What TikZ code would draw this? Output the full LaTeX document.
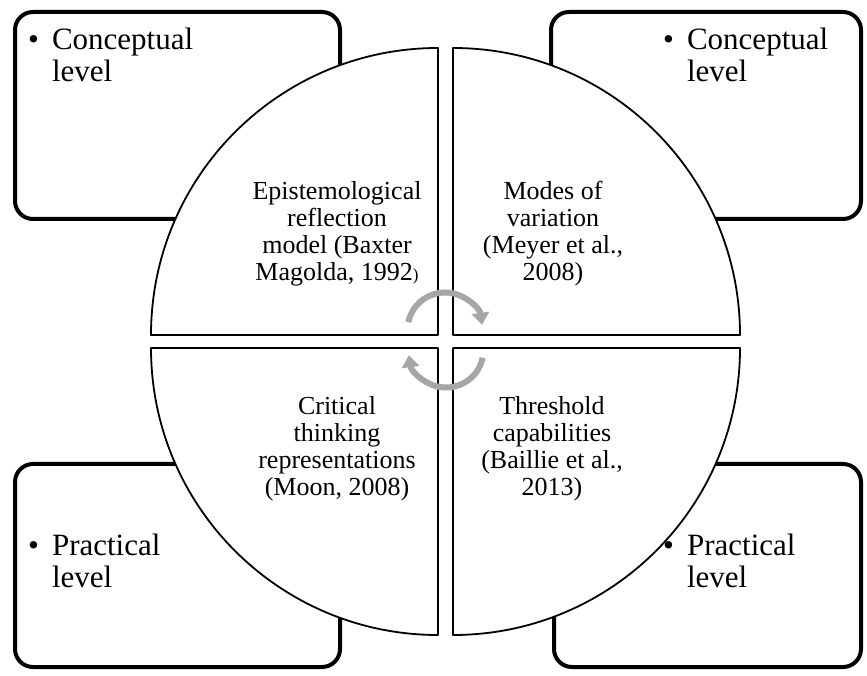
\documentclass[tikz,border=0pt]{standalone}
\usepackage{fontspec}
\setmainfont{Liberation Serif}
\usetikzlibrary{arrows.meta}

\definecolor{arrowgray}{HTML}{A6A6A6}

\tikzset{
  levelbox/.style={line width=4pt,rounded corners=18pt},
  quarter/.style={line width=1.8pt,fill=white},
  cycarrow/.style={line width=6pt,arrowgray,-{Triangle[length=12pt,width=17pt]}},
  leveltext/.style={anchor=base west,inner sep=0pt,font=\fontsize{31}{32}\selectfont},
  theorytext/.style={anchor=base,inner sep=0pt,font=\fontsize{26}{27}\selectfont}
}

\begin{document}
\begin{tikzpicture}[line join=round,x=1pt,y=1pt]
\useasboundingbox (0,0) rectangle (867,675);
% corner boxes
\draw [levelbox] (15,456) rectangle (340,663);
\draw [levelbox] (551,456) rectangle (861,663);
\draw [levelbox] (15,8) rectangle (340,211);
\draw [levelbox] (554,8) rectangle (861,211);
% the four quarters
\draw [quarter] (438,340) -- (438,627) arc (90:180:287) -- cycle;
\draw [quarter] (453,340) -- (740,340) arc (0:90:287) -- cycle;
\draw [quarter] (438,327) -- (151,327) arc (180:270:287) -- cycle;
\draw [quarter] (453,327) -- (453,40) arc (270:360:287) -- cycle;
% box texts
\node [leveltext] (conceptLeft) at (28,625) {\begin{tabular}[t]{@{}l@{\hspace{13pt}}l@{}}\textbullet & Conceptual\\ & level\end{tabular}};
\node [leveltext] (conceptRight) at (663,625) {\begin{tabular}[t]{@{}l@{\hspace{13pt}}l@{}}\textbullet & Conceptual\\ & level\end{tabular}};
\node [leveltext] (practLeft) at (28,120) {\begin{tabular}[t]{@{}l@{\hspace{13pt}}l@{}}\textbullet & Practical\\ & level\end{tabular}};
\node [leveltext] (practRight) at (663,120) {\begin{tabular}[t]{@{}l@{\hspace{13pt}}l@{}}\textbullet & Practical\\ & level\end{tabular}};
% quarter texts
\node [theorytext] (epistModel) at (337,475) {\begin{tabular}[t]{@{}c@{}}Epistemological\\ reflection\\ model (Baxter\\ Magolda, 1992{\fontsize{17}{17}\selectfont )}\end{tabular}};
\node [theorytext] (variationModes) at (553,475) {\begin{tabular}[t]{@{}c@{}}Modes of\\ variation\\ (Meyer et al.,\\ 2008)\end{tabular}};
\node [theorytext] (critThinking) at (337,260) {\begin{tabular}[t]{@{}c@{}}Critical\\ thinking\\ representations\\ (Moon, 2008)\end{tabular}};
\node [theorytext] (thresholdCap) at (552,260) {\begin{tabular}[t]{@{}c@{}}Threshold\\ capabilities\\ (Baillie et al.,\\ 2013)\end{tabular}};
% circular arrows
\coordinate (upperTurn) at (445,345);
\coordinate (lowerTurn) at (446,325);
\draw [cycarrow] (upperTurn) ++(168:37.5) arc (168:8:37.5);
\draw [cycarrow] (lowerTurn) ++(-12:37.5) arc (-12:-172:37.5);
\end{tikzpicture}
\end{document}
